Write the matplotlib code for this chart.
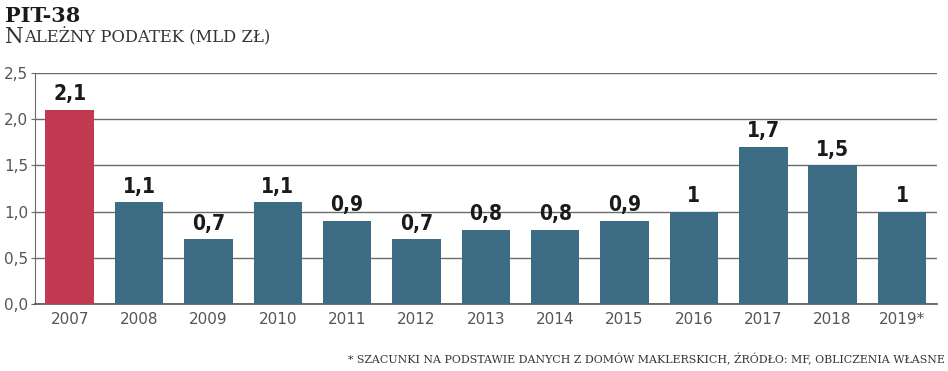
import matplotlib.pyplot as plt

years = ["2007", "2008", "2009", "2010", "2011", "2012", "2013",
         "2014", "2015", "2016", "2017", "2018", "2019*"]
values = [2.1, 1.1, 0.7, 1.1, 0.9, 0.7, 0.8, 0.8, 0.9, 1.0, 1.7, 1.5, 1.0]
labels = ["2,1", "1,1", "0,7", "1,1", "0,9", "0,7", "0,8",
          "0,8", "0,9", "1", "1,7", "1,5", "1"]
yticks = [0, 0.5, 1.0, 1.5, 2.0, 2.5]
ytick_labels = ["0,0", "0,5", "1,0", "1,5", "2,0", "2,5"]

red = "#c23a52"
teal = "#3d6d85"
colors = [red] + [teal] * (len(years) - 1)

fig = plt.figure(figsize=(9.48, 3.71), dpi=100)
ax = fig.add_axes([0.037, 0.181, 0.951, 0.622])

x = range(len(years))
bars = ax.bar(x, values, width=0.7, color=colors, zorder=3)

# value labels above bars
for bar, lab in zip(bars, labels):
    ax.annotate(lab, xy=(bar.get_x() + bar.get_width() / 2, bar.get_height()),
                xytext=(0, 4), textcoords="offset points",
                ha="center", va="bottom", fontsize=15, fontweight="bold",
                fontstretch="condensed", color="#1a1a1a", zorder=4)

ax.set_xlim(-0.5, 12.5)
ax.set_ylim(0, 2.5)
ax.set_yticks(yticks)
ax.set_yticklabels(ytick_labels)
ax.set_xticks(list(x))
ax.set_xticklabels(years)
ax.yaxis.grid(True, color="#6b6b6b", linewidth=1, zorder=0)
ax.tick_params(axis="y", length=3, color="#6b6b6b", labelsize=11,
               labelcolor="#555555", pad=2)
ax.tick_params(axis="x", length=0, labelsize=11, labelcolor="#555555", pad=6)
for sp in ["top", "right"]:
    ax.spines[sp].set_visible(False)
ax.spines["left"].set_color("#6b6b6b")
ax.spines["bottom"].set_color("#555555")
ax.spines["bottom"].set_linewidth(1.2)

# titles
fig.text(0.005, 0.94, "PIT-38", fontsize=15, fontweight="bold",
         family="DejaVu Serif", color="#1a1a1a", va="baseline")
fig.text(0.005, 0.885, "N", fontsize=15.5, family="DejaVu Serif",
         color="#333333", va="baseline")
fig.text(0.025, 0.885, "ALEŻNY PODATEK (MLD ZŁ)", fontsize=11.8,
         family="DejaVu Serif", color="#333333", va="baseline")

fig.text(0.997, 0.02,
         "* SZACUNKI NA PODSTAWIE DANYCH Z DOMÓW MAKLERSKICH, ŹRÓDŁO: MF, OBLICZENIA WŁASNE",
         fontsize=7.9, family="DejaVu Serif", color="#333333",
         ha="right", va="baseline")

fig.savefig("out.png", dpi=100)
